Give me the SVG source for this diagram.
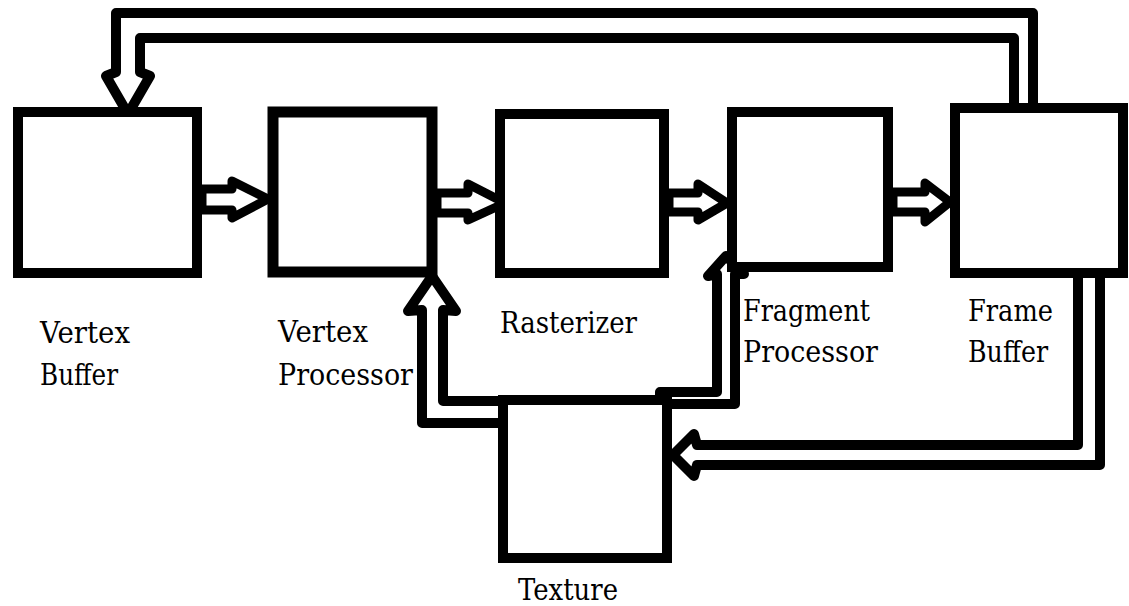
<svg xmlns="http://www.w3.org/2000/svg" width="1129" height="606" viewBox="0 0 1129 606">
<style>
.box{fill:#fff;stroke:#000;stroke-width:10}
.conn{fill:none;stroke:#000;stroke-width:10;stroke-linejoin:round}
.harrow{fill:#fff;stroke:#000;stroke-width:9;stroke-linejoin:round}
.lbl{font-family:"DejaVu Serif","Liberation Serif",serif;font-size:30px;fill:#000}
</style>
<rect width="1129" height="606" fill="#fff"/>
<g id="connectors">
<polyline class="conn" points="1014,104 1014,38 140,38 140,72 150,76 128,114 106,76 116,72 116,13 1033,13 1033,104"/>
<polyline class="conn" points="1078,268 1078,445 697,445 694,434 673,455 694,476 697,465 1100,465 1100,268"/>
<polyline class="conn" points="498,423 422,423 422,310 408,311 432,276 456,311 443,310 443,401 503,401"/>
<polyline class="conn" points="660,400 660,392 717,392 717,274 708,276 726,256 744,274 735,274 735,404 667,404"/>
<polygon class="harrow" points="202,189 232,189 232,181 268,199 232,218 232,210 202,210"/>
<polygon class="harrow" points="437,193 468,193 468,184 505,203 468,220 468,213 437,213"/>
<polygon class="harrow" points="669,193 698,193 698,184 727,203 698,220 698,212 669,212"/>
<polygon class="harrow" points="893,192 925,192 925,183 950,202 925,222 925,212 893,212"/>
</g>
<g id="vertex-buffer">
<rect class="box" x="18" y="112" width="179" height="161"/>
<text class="lbl" x="40" y="343" textLength="90" lengthAdjust="spacingAndGlyphs">Vertex</text>
<text class="lbl" x="40" y="385" textLength="78" lengthAdjust="spacingAndGlyphs">Buffer</text>
</g>
<g id="vertex-processor">
<rect class="box" x="273" y="112" width="159" height="160" style="stroke-width:11"/>
<text class="lbl" x="278" y="342" textLength="90" lengthAdjust="spacingAndGlyphs">Vertex</text>
<text class="lbl" x="278" y="385" textLength="135" lengthAdjust="spacingAndGlyphs">Processor</text>
</g>
<g id="rasterizer">
<rect class="box" x="500" y="114" width="164" height="159"/>
<text class="lbl" x="500" y="333" textLength="137" lengthAdjust="spacingAndGlyphs">Rasterizer</text>
</g>
<g id="fragment-processor">
<rect class="box" x="732" y="112" width="156" height="155"/>
<text class="lbl" x="743" y="321" textLength="127" lengthAdjust="spacingAndGlyphs">Fragment</text>
<text class="lbl" x="743" y="362" textLength="135" lengthAdjust="spacingAndGlyphs">Processor</text>
</g>
<g id="frame-buffer">
<rect class="box" x="955" y="108" width="168" height="165"/>
<text class="lbl" x="968" y="321" textLength="85" lengthAdjust="spacingAndGlyphs">Frame</text>
<text class="lbl" x="968" y="362" textLength="80" lengthAdjust="spacingAndGlyphs">Buffer</text>
</g>
<g id="texture">
<rect class="box" x="503" y="400" width="164" height="158"/>
<text class="lbl" x="518" y="600" textLength="100" lengthAdjust="spacingAndGlyphs">Texture</text>
</g>
</svg>
